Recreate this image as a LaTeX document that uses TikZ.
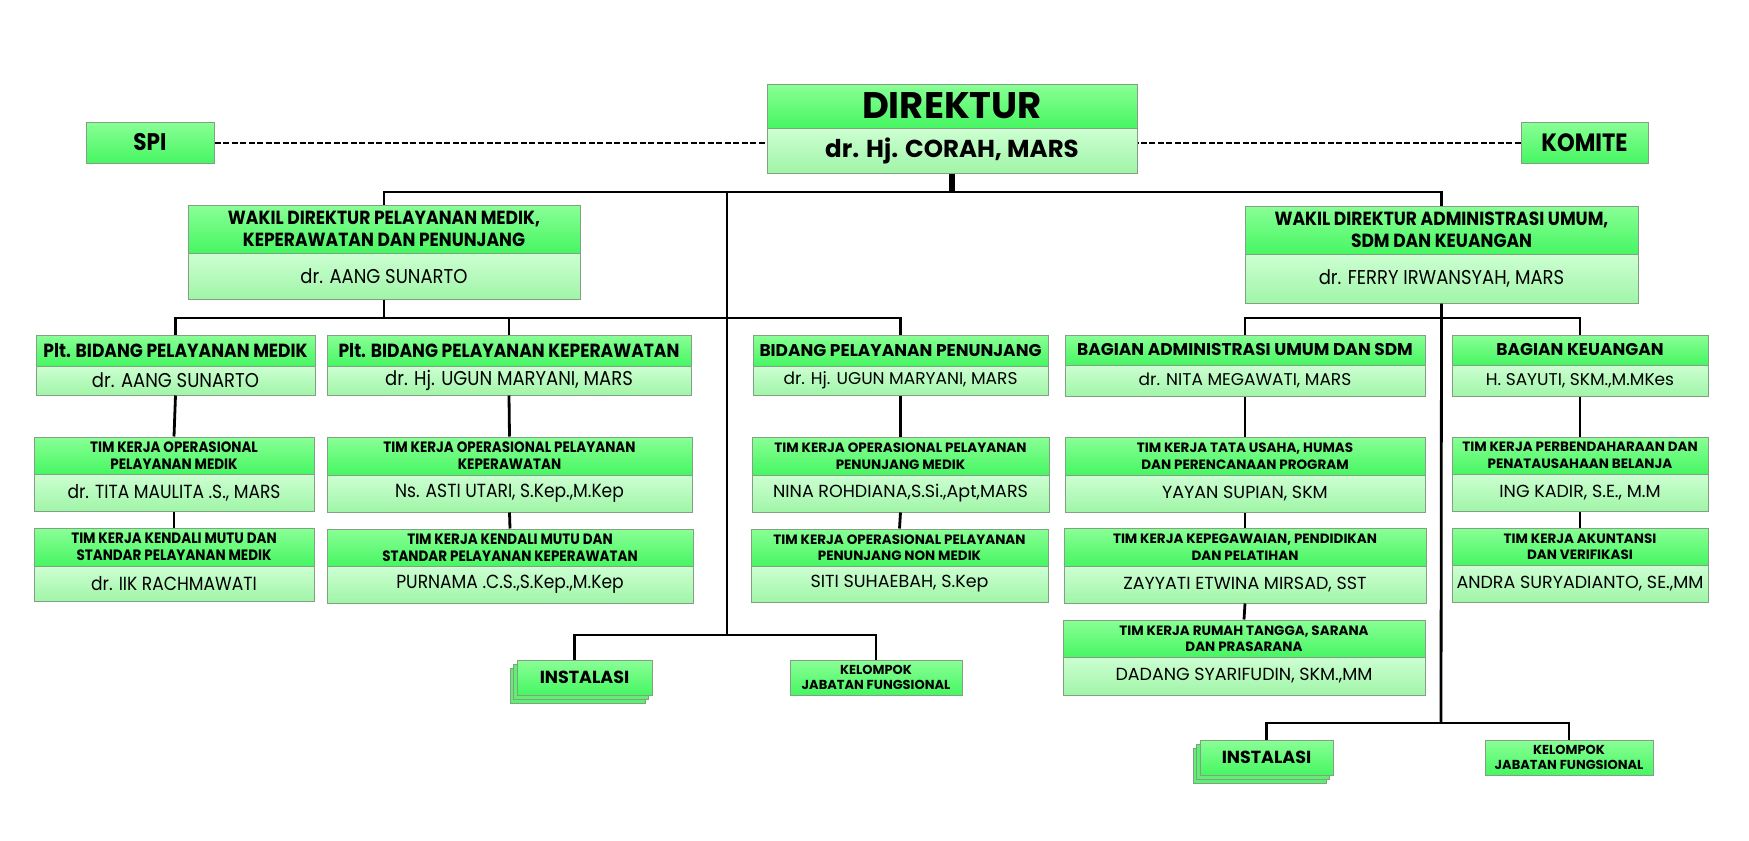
\documentclass[tikz,border=0pt]{standalone}
\usepackage{fontspec}
\setmainfont{Poppins}
\newfontfamily\condfont{Poppins}[FakeStretch=0.9]
\usetikzlibrary{shadows}
\definecolor{headtop}{RGB}{138, 255, 150}
\definecolor{headbot}{RGB}{70, 246, 98}
\definecolor{nametop}{RGB}{205, 255, 210}
\definecolor{namebot}{RGB}{160, 245, 168}
\definecolor{boxline}{RGB}{130, 160, 130}
\definecolor{instback}{RGB}{95, 240, 115}

% one unit = header part + name part
\newcommand{\unitbox}[8]{%
    \node[headbox, minimum width={#3-#2}, minimum height={#5-#4}] (#1) at ({(#2+#3)/2}, {(#4+#5)/2}) {#7};
    \node[namebox, minimum width={#3-#2}, minimum height={#6-#5}] (#1-n) at ({(#2+#3)/2}, {(#5+#6)/2}) {#8};
}

\begin{document}
\begin{tikzpicture}[x=1pt, y=-1pt,
    headbox/.style={rectangle, draw=boxline, line width=1pt, top color=headtop, bottom color=headbot,
                    inner sep=0pt, align=center, text=black},
    namebox/.style={rectangle, draw=boxline, line width=1pt, top color=nametop, bottom color=namebot,
                    inner sep=0pt, align=center, text=black},
    linkline/.style={draw=black, line width=2.8pt},
    busthick/.style={draw=black, line width=5.5pt},
    dashlink/.style={draw=black, line width=2pt, dash pattern=on 6pt off 2.5pt},
    whead/.style={font=\condfont\bfseries\fontsize{19}{22}\selectfont},
    lhead/.style={font=\condfont\bfseries\fontsize{19}{21}\selectfont},
    ltim/.style={font=\condfont\bfseries\fontsize{15}{17}\selectfont},
    rhead/.style={font=\bfseries\fontsize{17}{19}\selectfont},
    rtim/.style={font=\bfseries\fontsize{13.5}{16.5}\selectfont}]

    \useasboundingbox[fill=white] (0,0) rectangle (1749,841);

    % Direktur, SPI and Komite
    \node[headbox, minimum width=370, minimum height=44, font=\bfseries\fontsize{37}{40}\selectfont] (dir) at (952,106) {DIREKTUR};
    \node[namebox, minimum width=370, minimum height=45, font=\bfseries\fontsize{24.5}{26}\selectfont] (dir-n) at (952,150.5) {dr. Hj. CORAH, MARS};
    \node[headbox, minimum width=128, minimum height=41, font=\condfont\bfseries\fontsize{24}{26}\selectfont] (spi) at (150,142.5) {SPI};
    \node[headbox, minimum width=127, minimum height=41, font=\condfont\bfseries\fontsize{25}{27}\selectfont] (komite) at (1584.5,142.5) {KOMITE};

    % Wakil direktur
    \begin{scope}[every node/.append style={whead}]
    \unitbox{wakil1}{188}{580}{205}{253}{299}{WAKIL DIREKTUR PELAYANAN MEDIK,\\KEPERAWATAN DAN PENUNJANG}{\mdseries\fontsize{20}{22}\selectfont dr. AANG SUNARTO}
    \unitbox{wakil2}{1245}{1638}{206}{254}{303}{WAKIL DIREKTUR ADMINISTRASI UMUM,\\SDM DAN KEUANGAN}{\mdseries\fontsize{20}{22}\selectfont dr. FERRY IRWANSYAH, MARS}
    \end{scope}

    % Bidang medik dan keperawatan
    \begin{scope}[every node/.append style={lhead}]
    \unitbox{pltmed}{36}{315}{335}{366}{395}{Plt. BIDANG PELAYANAN MEDIK}{\mdseries\fontsize{20}{22}\selectfont dr. AANG SUNARTO}
    \unitbox{pltkep}{327}{691}{335}{366}{395}{Plt. BIDANG PELAYANAN KEPERAWATAN}{\mdseries\fontsize{20}{22}\selectfont dr. Hj. UGUN MARYANI, MARS}
    \end{scope}
    \begin{scope}[every node/.append style={ltim}]
    \unitbox{timopmed}{34}{314}{437}{474}{511}{TIM KERJA OPERASIONAL\\PELAYANAN MEDIK}{\mdseries\fontsize{19}{21}\selectfont dr. TITA MAULITA .S., MARS}
    \unitbox{timkenmed}{34}{314}{528}{566}{601}{TIM KERJA KENDALI MUTU DAN\\STANDAR PELAYANAN MEDIK}{\mdseries\fontsize{19}{21}\selectfont dr. IIK RACHMAWATI}
    \unitbox{timopkep}{327}{692}{437}{475}{512}{TIM KERJA OPERASIONAL PELAYANAN\\KEPERAWATAN}{\mdseries\fontsize{19}{21}\selectfont Ns. ASTI UTARI, S.Kep.,M.Kep}
    \unitbox{timkenkep}{327}{693}{529}{566}{603}{TIM KERJA KENDALI MUTU DAN\\STANDAR PELAYANAN KEPERAWATAN}{\mdseries\fontsize{19}{21}\selectfont PURNAMA .C.S.,S.Kep.,M.Kep}
    \end{scope}

    % Penunjang, administrasi umum, keuangan
    \begin{scope}[every node/.append style={rhead}]
    \unitbox{penunjang}{753}{1048}{335}{366}{395}{BIDANG PELAYANAN PENUNJANG}{\mdseries\fontsize{17}{19}\selectfont dr. Hj. UGUN MARYANI, MARS}
    \unitbox{adm}{1065}{1425}{335}{365}{396}{BAGIAN ADMINISTRASI UMUM DAN SDM}{\mdseries\fontsize{17}{19}\selectfont dr. NITA MEGAWATI, MARS}
    \unitbox{keu}{1452}{1708}{335}{365}{396}{BAGIAN KEUANGAN}{\mdseries\fontsize{17}{19}\selectfont H. SAYUTI, SKM.,M.MKes}
    \end{scope}
    \begin{scope}[every node/.append style={rtim}]
    \unitbox{timpenmed}{752}{1049}{437}{475}{512}{TIM KERJA OPERASIONAL PELAYANAN\\PENUNJANG MEDIK}{\mdseries\fontsize{17.5}{19}\selectfont NINA ROHDIANA,S.Si.,Apt,MARS}
    \unitbox{timpennon}{751}{1048}{529}{566}{602}{TIM KERJA OPERASIONAL PELAYANAN\\PENUNJANG NON MEDIK}{\mdseries\fontsize{17.5}{19}\selectfont SITI SUHAEBAH, S.Kep}
    \unitbox{timtu}{1065}{1425}{437}{475}{512}{TIM KERJA TATA USAHA, HUMAS\\DAN PERENCANAAN PROGRAM}{\mdseries\fontsize{17.5}{19}\selectfont YAYAN SUPIAN, SKM}
    \unitbox{timpeg}{1064}{1426}{528}{566}{603}{TIM KERJA KEPEGAWAIAN, PENDIDIKAN\\DAN PELATIHAN}{\mdseries\fontsize{17.5}{19}\selectfont ZAYYATI ETWINA MIRSAD, SST}
    \unitbox{timrt}{1063}{1425}{620}{657}{695}{TIM KERJA RUMAH TANGGA, SARANA\\DAN PRASARANA}{\mdseries\fontsize{17.5}{19}\selectfont DADANG SYARIFUDIN, SKM.,MM}
    \unitbox{timbend}{1452}{1708}{437}{474}{511}{TIM KERJA PERBENDAHARAAN DAN\\PENATAUSAHAAN BELANJA}{\mdseries\fontsize{17.5}{19}\selectfont ING KADIR, S.E., M.M}
    \unitbox{timakun}{1452}{1708}{528}{565}{602}{TIM KERJA AKUNTANSI\\DAN VERIFIKASI}{\mdseries\fontsize{17.5}{19}\selectfont ANDRA SURYADIANTO, SE.,MM}
    \end{scope}

    % Instalasi and kelompok jabatan fungsional
    \node[headbox, minimum width=135, minimum height=35, font=\bfseries\fontsize{17.5}{19}\selectfont,
          double copy shadow={shadow xshift=-3.5pt, shadow yshift=-4pt, fill=instback, draw=boxline}] (inst1) at (584.5,677.5) {INSTALASI};
    \node[headbox, minimum width=172, minimum height=35, font=\bfseries\fontsize{13}{15.5}\selectfont] (kel1) at (876,677.5) {KELOMPOK\\JABATAN FUNGSIONAL};
    \node[headbox, minimum width=133, minimum height=35, font=\bfseries\fontsize{17.5}{19}\selectfont,
          double copy shadow={shadow xshift=-3.5pt, shadow yshift=-4pt, fill=instback, draw=boxline}] (inst2) at (1266.5,757.5) {INSTALASI};
    \node[headbox, minimum width=168, minimum height=35, font=\bfseries\fontsize{13}{15.5}\selectfont] (kel2) at (1569,757.5) {KELOMPOK\\JABATAN FUNGSIONAL};

    % Connectors
    \coordinate (top bus) at (952,192);
    \coordinate (mid end) at (727,635);
    \coordinate (bus left) at (384,318);
    \coordinate (bus right) at (1441,318);
    \coordinate (right end) at (1441,723);
    \draw[dashlink] (spi.east) -- (spi.east -| dir-n.west);
    \draw[dashlink] (komite.west) -- (komite.west -| dir-n.east);
    \draw[busthick] (dir-n.south) -- (top bus);
    \draw[linkline] (wakil1.north) |- (top bus) -| (wakil2.north);
    \draw[linkline] (mid end |- top bus) -- (mid end);
    \draw[linkline] ([xshift=-10pt]inst1.north) |- (mid end) -| (kel1.north);
    \draw[linkline] (wakil1-n.south) -- (bus left);
    \draw[linkline] (pltmed.north) |- (bus left) -| (penunjang.north);
    \draw[linkline] (pltkep.north) -- (pltkep.north |- bus left);
    \draw[linkline] (wakil2-n.south) -- (right end);
    \draw[linkline] (adm.north) |- (bus right) -| (keu.north);
    \draw[linkline] (inst2.north) |- (right end) -| (kel2.north);
    \foreach \a/\b in {pltmed/timopmed, timopmed/timkenmed, pltkep/timopkep, timopkep/timkenkep,
                       penunjang/timpenmed, timpenmed/timpennon, adm/timtu, timtu/timpeg, timpeg/timrt,
                       keu/timbend, timbend/timakun}
        \draw[linkline] (\a-n.south) -- (\b.north);
\end{tikzpicture}
\end{document}
